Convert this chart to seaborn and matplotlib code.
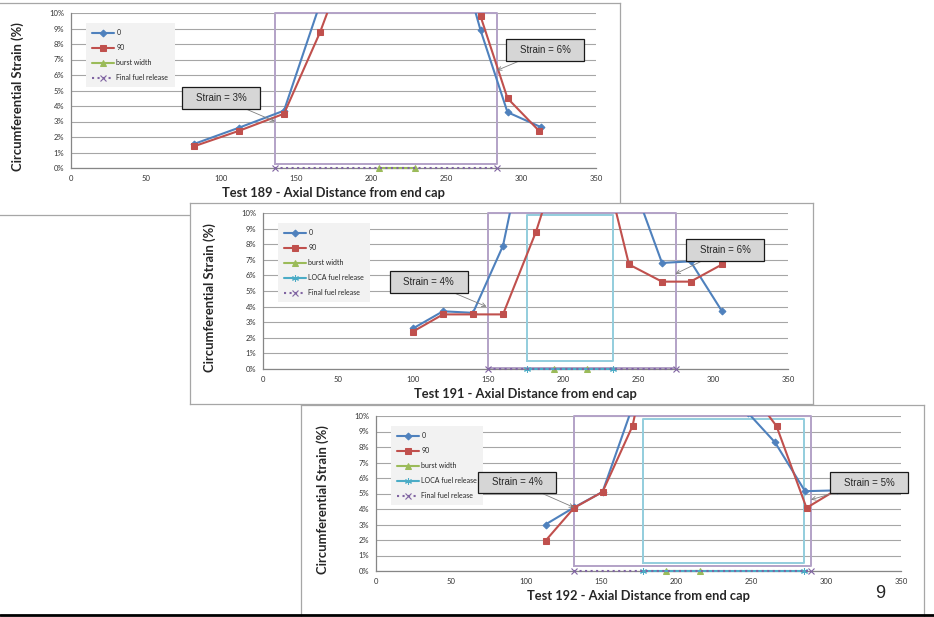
import numpy as np
import matplotlib
matplotlib.use("Agg")
import matplotlib.pyplot as plt
import seaborn as sns
from matplotlib.path import Path
from matplotlib.lines import Line2D

# ---- data: circumferential strain (%) vs axial distance from end cap ----
# points above 10 % are off the chart in the original; estimated from where the lines leave / come back
t189_x0 = [82, 112, 142, 166, 190, 250, 273, 291, 313]
t189_s0 = [1.55, 2.6, 3.7, 10.6, 20.0, 16.8, 8.9, 3.6, 2.65]
t189_x90 = [82, 112, 142, 166, 190, 250, 273, 291, 312]
t189_s90 = [1.4, 2.4, 3.5, 8.75, 15.0, 16.0, 9.8, 4.5, 2.4]
t189_burst = [205, 229]
t189_final = [136, 284]
t189_final_box = [0.25, 10.0]

t191_x0 = [100, 120, 140, 160, 182, 244, 266, 285, 306]
t191_s0 = [2.6, 3.7, 3.6, 7.9, 18.0, 12.6, 6.8, 6.9, 3.7]
t191_x90 = [100, 120, 140, 160, 182, 200, 222, 244, 266, 285, 306]
t191_s90 = [2.4, 3.5, 3.5, 3.5, 8.8, 14.2, 15.3, 6.7, 5.6, 5.6, 6.7]
t191_burst = [194, 216]
t191_loca = [176, 233]
t191_loca_box = [0.5, 9.9]
t191_final = [150, 275]
t191_final_box = [0.05, 10.0]

t192_x0 = [113, 132, 151, 171, 190, 248, 266, 286, 307]
t192_s0 = [3.0, 4.1, 5.1, 10.6, 20.0, 10.2, 8.3, 5.15, 5.2]
t192_x90 = [113, 132, 151, 171, 190, 248, 267, 287, 308]
t192_s90 = [1.95, 4.07, 5.1, 9.35, 18.0, 11.8, 9.35, 4.07, 5.3]
t192_burst = [193, 216]
t192_loca = [178, 285]
t192_loca_box = [0.5, 9.83]
t192_final = [132, 290]
t192_final_box = [0.3, 10.0]

# callouts: label, target x, target y
t189_notes = [("Strain = 3%", 136, 3.0), ("Strain = 6%", 284, 6.3)]
t191_notes = [("Strain = 4%", 149, 4.0), ("Strain = 6%", 275, 6.1)]
t192_notes = [("Strain = 4%", 132, 4.1), ("Strain = 5%", 290, 4.6)]

x_ticks = [0, 50, 100, 150, 200, 250, 300, 350]
y_ticks = [0, 1, 2, 3, 4, 5, 6, 7, 8, 9, 10]

BLUE = "#4F81BD"
RED = "#C0504D"
GREEN = "#9BBB59"
CYAN = "#4BACC6"
PURPLE = "#8064A2"
PURPLE_BOX = "#B3A2C7"
CYAN_BOX = "#93CDDD"

W, H = 934, 617
sns.set_style("white")
plt.rcParams["font.family"] = ["Lato", "DejaVu Sans"]


def px_rect(left, top, right, bottom):
    return [left / W, 1 - bottom / H, (right - left) / W, (bottom - top) / H]


def callout_box(x0, y0, width, height, mutation_size):
    padx, pady = 1.4 * mutation_size, 0.6 * mutation_size
    x0, y0 = x0 - padx, y0 - pady
    x1, y1 = x0 + width + 2 * padx, y0 + height + 2 * pady
    return Path([(x0, y0), (x1, y0), (x1, y1), (x0, y1), (x0, y0)], closed=True)


def add_frame(fig, rect):
    fr = fig.add_axes(px_rect(*rect))
    fr.set_facecolor("white")
    fr.set_xticks([])
    fr.set_yticks([])
    for sp in fr.spines.values():
        sp.set_color("#a6a6a6")
        sp.set_linewidth(0.9)
    return fr


def draw_panel(ax, test, x0, s0, x90, s90, burst, final, final_box,
               loca=None, loca_box=None, notes=(), note_pos=()):
    # release boxes behind everything
    if loca is not None:
        ax.plot([loca[0], loca[0], loca[1], loca[1], loca[0]],
                [loca_box[0], loca_box[1], loca_box[1], loca_box[0], loca_box[0]],
                color=CYAN_BOX, lw=1.4, clip_on=False, zorder=1.5)
    ax.plot([final[0], final[0], final[1], final[1], final[0]],
            [final_box[0], final_box[1], final_box[1], final_box[0], final_box[0]],
            color=PURPLE_BOX, lw=1.4, clip_on=False, zorder=1.6)

    sns.lineplot(x=x0, y=s0, ax=ax, color=BLUE, lw=1.5, marker="D", markersize=3.5,
                 markeredgecolor=BLUE, sort=False, label="0", zorder=3)
    sns.lineplot(x=x90, y=s90, ax=ax, color=RED, lw=1.5, marker="s", markersize=5,
                 markeredgecolor=RED, sort=False, label="90", zorder=3)
    sns.lineplot(x=burst, y=np.zeros(len(burst)), ax=ax, color=GREEN, lw=1.5, marker="^",
                 markersize=5, markeredgecolor=GREEN, sort=False, label="burst width",
                 clip_on=False, zorder=3)
    if loca is not None:
        sns.lineplot(x=loca, y=np.zeros(len(loca)), ax=ax, color=CYAN, lw=1.5, marker=(6, 2, 0),
                     markersize=5, markeredgecolor=CYAN, sort=False, label="LOCA fuel release",
                     clip_on=False, zorder=3)
    sns.lineplot(x=final, y=np.zeros(len(final)), ax=ax, color=PURPLE, lw=1.5, ls=":",
                 marker="x", markersize=5, markeredgecolor=PURPLE, markeredgewidth=0.8,
                 sort=False, label="Final fuel release", clip_on=False, zorder=3.5)

    ax.set_xlim(0, 350)
    ax.set_ylim(0, 10)
    ax.set_xticks(x_ticks)
    ax.set_yticks(y_ticks)
    ax.set_yticklabels([f"{v}%" for v in y_ticks])
    ax.tick_params(length=0, labelsize=5.5, colors="#333333", pad=5)
    ax.grid(axis="y", color="#a6a6a6", lw=0.8)
    ax.grid(axis="x", visible=False)
    for side in ["top", "right"]:
        ax.spines[side].set_visible(False)
    for side in ["left", "bottom"]:
        ax.spines[side].set_color("#868686")
        ax.spines[side].set_linewidth(0.9)

    ax.set_xlabel(f"Test {test} - Axial Distance from end cap", fontsize=9.3, fontweight="bold")
    ax.xaxis.set_label_coords(0.5, -0.125)
    ax.set_ylabel("Circumferential Strain (%)", fontsize=9.4, fontweight="bold", va="center")
    ax.yaxis.set_label_coords(-0.101, 0.46)

    leg = ax.legend(loc="upper left", bbox_to_anchor=(0.028, 0.937), borderaxespad=0,
                    fontsize=5, frameon=True, fancybox=False, handlelength=3.2,
                    handletextpad=0.3, labelspacing=1.15, borderpad=0.9, numpoints=1)
    leg.get_frame().set_facecolor("#f2f2f2")
    leg.get_frame().set_edgecolor("none")
    leg.get_frame().set_alpha(1)
    leg.set_zorder(5)

    for (label, tx, ty), (bx, by) in zip(notes, note_pos):
        ax.annotate(label, xy=(tx, ty), xytext=(bx, by), ha="center", va="center",
                    fontsize=7, family="Liberation Sans", zorder=6,
                    bbox=dict(boxstyle=callout_box, fc="#d6d6d6", ec="#1a1a1a", lw=0.9),
                    arrowprops=dict(arrowstyle="->", color="#7f7f7f", lw=0.6,
                                    shrinkA=0, shrinkB=0))


fig = plt.figure(figsize=(W / 100, H / 100), dpi=100)

add_frame(fig, (-3, 3, 620, 215))
ax1 = fig.add_axes(px_rect(71, 13, 596, 168))
draw_panel(ax1, 189, t189_x0, t189_s0, t189_x90, t189_s90, t189_burst,
           t189_final, t189_final_box,
           notes=t189_notes, note_pos=[(100, 4.5), (316, 7.6)])

add_frame(fig, (190, 203, 813, 404))
ax2 = fig.add_axes(px_rect(263, 213, 788, 369))
draw_panel(ax2, 191, t191_x0, t191_s0, t191_x90, t191_s90, t191_burst,
           t191_final, t191_final_box, loca=t191_loca, loca_box=t191_loca_box,
           notes=t191_notes, note_pos=[(110.5, 5.56), (308, 7.64)])

add_frame(fig, (301, 405, 924, 640))
ax3 = fig.add_axes(px_rect(376, 416, 901, 571))
draw_panel(ax3, 192, t192_x0, t192_s0, t192_x90, t192_s90, t192_burst,
           t192_final, t192_final_box, loca=t192_loca, loca_box=t192_loca_box,
           notes=t192_notes, note_pos=[(94, 5.72), (328.7, 5.7)])

fig.text(880 / W, 1 - 594 / H, "9", fontsize=13, family="Liberation Sans",
         ha="center", va="center")
fig.add_artist(Line2D([0, 1], [1 - 615 / H] * 2, transform=fig.transFigure,
                      color="black", lw=2))

fig.savefig("out.png", dpi=100)
print("Saved: out.png")
